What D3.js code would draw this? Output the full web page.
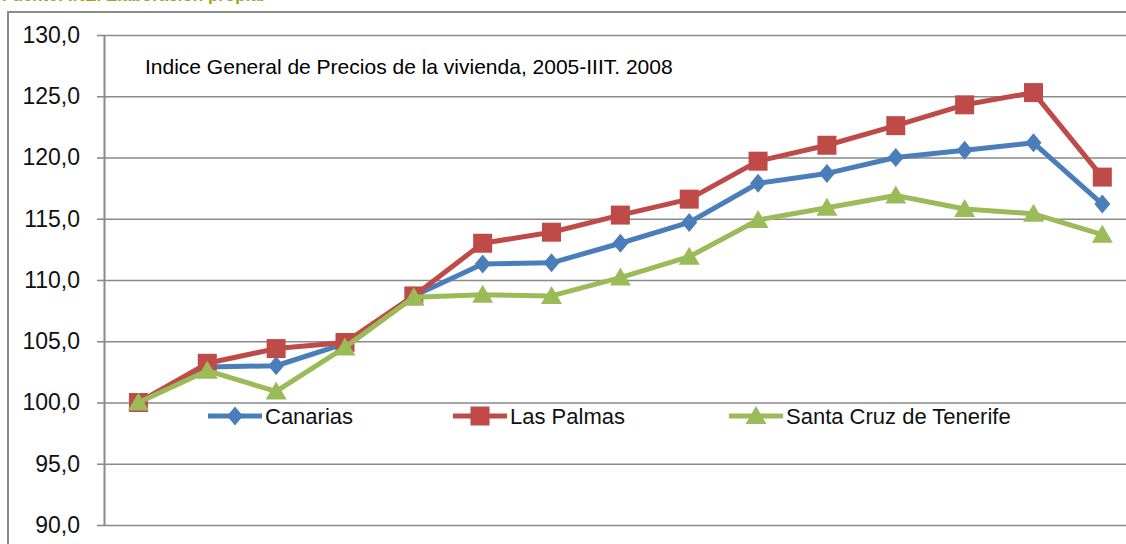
<!DOCTYPE html>
<html>
<head>
<meta charset="utf-8">
<script src="https://cdn.jsdelivr.net/npm/d3@7"></script>
<style>
  html, body { margin: 0; padding: 0; background: #fff; overflow: hidden; }
  svg { display: block; overflow: hidden; font-family: "Liberation Sans", Arial, sans-serif; }
</style>
</head>
<body>
<svg id="chart" width="1126" height="544"></svg>
<script>
// Quarterly categories: 2005-I .. 2008-III
const quarters = ["2005-I","2005-II","2005-III","2005-IV",
                  "2006-I","2006-II","2006-III","2006-IV",
                  "2007-I","2007-II","2007-III","2007-IV",
                  "2008-I","2008-II","2008-III"];

const canarias   = [100.0, 102.9, 103.0, 104.8, 108.7, 111.3, 111.4, 113.0, 114.7, 117.9, 118.7, 120.0, 120.6, 121.2, 116.2];
const lasPalmas  = [100.0, 103.2, 104.4, 104.9, 108.7, 113.0, 113.9, 115.3, 116.6, 119.7, 121.0, 122.6, 124.3, 125.3, 118.4];
const santaCruz  = [100.0, 102.6, 100.9, 104.5, 108.6, 108.8, 108.7, 110.2, 111.9, 114.9, 115.9, 116.9, 115.8, 115.4, 113.7];

const seriesNames  = ["Canarias", "Las Palmas", "Santa Cruz de Tenerife"];
const yTicks       = [90, 95, 100, 105, 110, 115, 120, 125, 130];
const chartTitle   = "Indice General de Precios de la vivienda, 2005-IIIT. 2008";
const sourceNote   = "Fuente: INE. Elaboración propia.";

const series = [
  { name: seriesNames[0], values: canarias,  color: "#4a7ebb", marker: "diamond"  },
  { name: seriesNames[1], values: lasPalmas, color: "#be4b48", marker: "square"   },
  { name: seriesNames[2], values: santaCruz, color: "#9bbb59", marker: "triangle" }
];

const svg = d3.select("#chart");
const gridColor = "#8a8a8a";

// plot geometry
const plotLeft = 104, plotTop = 35, plotBottom = 525, band = 68.85;
const x = d3.scaleBand().domain(quarters).range([plotLeft, plotLeft + band * quarters.length]).padding(0);
const y = d3.scaleLinear().domain([90, 130]).range([plotBottom, plotTop]);
const cx = d => x(d) + x.bandwidth() / 2;

const esLocale = d3.formatLocale({ decimal: ",", thousands: ".", grouping: [3], currency: ["", " €"] });
const fmt = esLocale.format(".1f");

// source note along the top edge
svg.append("text")
  .attr("x", 2).attr("y", 1)
  .attr("font-size", 17).attr("font-weight", "bold")
  .attr("fill", "#a3a310")
  .text(sourceNote);

// outer chart frame (left and top edges fall inside the view)
svg.append("path")
  .attr("d", "M8,560V12H1140")
  .attr("fill", "none").attr("stroke", gridColor).attr("stroke-width", 2);

// horizontal gridlines
const grid = svg.append("g")
  .attr("transform", `translate(${plotLeft},0)`)
  .call(d3.axisLeft(y).tickValues(yTicks).tickSizeInner(-(band * quarters.length)).tickSizeOuter(0).tickFormat(""));
grid.select(".domain").remove();
grid.selectAll(".tick line").attr("stroke", gridColor).attr("stroke-width", 1.6);

// value axis with labels and short ticks
const yAxis = svg.append("g")
  .attr("transform", `translate(${plotLeft},0)`)
  .call(d3.axisLeft(y).tickValues(yTicks).tickSizeInner(7).tickSizeOuter(0).tickPadding(17).tickFormat(fmt));
yAxis.select(".domain").attr("stroke", gridColor).attr("stroke-width", 2);
yAxis.selectAll(".tick line").attr("stroke", gridColor).attr("stroke-width", 1.6);
yAxis.selectAll(".tick text")
  .attr("font-family", "Liberation Sans, Arial, sans-serif")
  .attr("font-size", 23).attr("fill", "#111");

// chart title inside the plot
svg.append("text")
  .attr("x", 145).attr("y", 74)
  .attr("font-size", 21).attr("fill", "#000")
  .text(chartTitle);

// marker shapes
function markerPath(type) {
  if (type === "diamond")  return "M0,-9.5L8,0L0,9.5L-8,0Z";
  if (type === "square")   return "M-9.5,-9.5H9.5V9.5H-9.5Z";
  return "M0,-10L10.5,8L-10.5,8Z";
}

const line = d3.line().x((v, i) => cx(quarters[i])).y(v => y(v));

series.forEach(s => {
  const g = svg.append("g");
  g.append("path")
    .attr("d", line(s.values))
    .attr("fill", "none").attr("stroke", s.color)
    .attr("stroke-width", 5).attr("stroke-linejoin", "round").attr("stroke-linecap", "round");
  g.selectAll("path.mk")
    .data(s.values)
    .join("path")
    .attr("class", "mk")
    .attr("transform", (v, i) => `translate(${cx(quarters[i])},${y(v)})`)
    .attr("d", markerPath(s.marker))
    .attr("fill", s.color);
});

// legend
const legendItems = [
  { s: series[0], x0: 208 },
  { s: series[1], x0: 453 },
  { s: series[2], x0: 729 }
];
const legendY = 416;
legendItems.forEach(({ s, x0 }) => {
  const g = svg.append("g").attr("transform", `translate(${x0},${legendY})`);
  g.append("line").attr("x1", 0).attr("x2", 54).attr("y1", 0).attr("y2", 0)
    .attr("stroke", s.color).attr("stroke-width", 5);
  g.append("path").attr("transform", "translate(27,0)").attr("d", markerPath(s.marker)).attr("fill", s.color);
  g.append("text").attr("x", 57).attr("y", 8)
    .attr("font-size", 22).attr("fill", "#111")
    .text(s.name);
});
</script>
</body>
</html>
